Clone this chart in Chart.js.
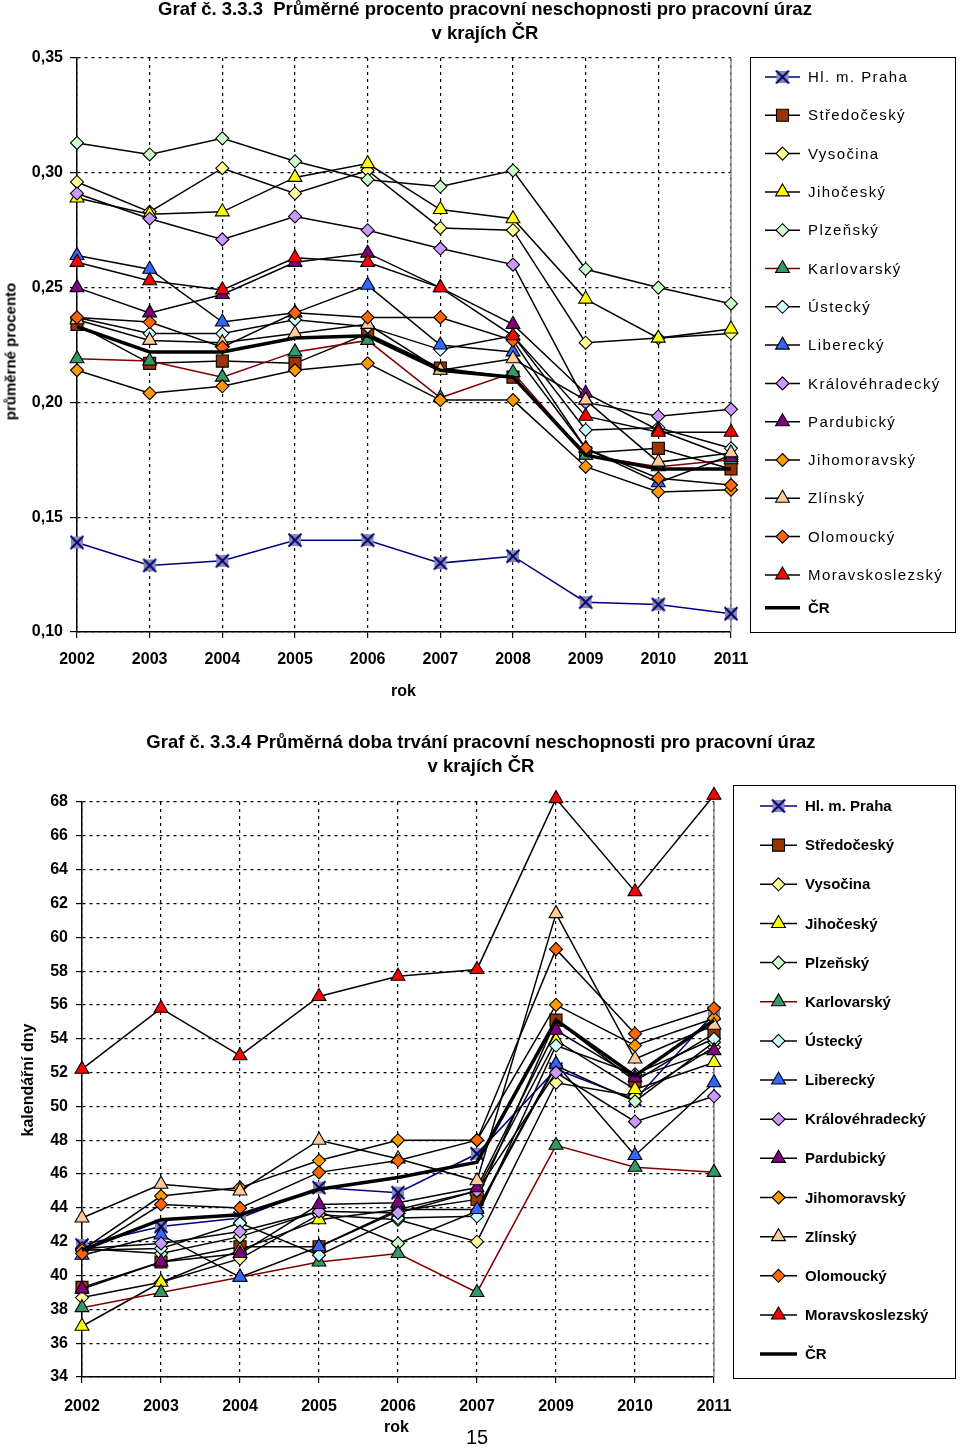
<!DOCTYPE html>
<html><head><meta charset="utf-8">
<script src="https://cdn.jsdelivr.net/npm/chart.js@4.4.1/dist/chart.umd.min.js"></script>
<style>
body{margin:0;background:#fff;width:960px;height:1449px;position:relative;font-family:"Liberation Sans",Arial,sans-serif;overflow:hidden}
.t{position:absolute;font-weight:bold;font-size:18.5px;color:#000;text-align:center;white-space:nowrap;line-height:24px}
.a{position:absolute;font-weight:bold;font-size:16px;color:#000;white-space:nowrap}
canvas{position:absolute;left:0}
</style></head><body>
<canvas id="c1" width="960" height="700" style="top:0"></canvas>
<canvas id="c2" width="960" height="729" style="top:720px"></canvas>
<div class="t" style="left:0;width:970px;top:-3px">Graf č. 3.3.3 &nbsp;Průměrné procento pracovní neschopnosti pro pracovní úraz<br>v krajích ČR</div>
<div class="a" style="left:-60px;top:343px;width:140px;text-align:center;transform:rotate(-90deg);font-size:15px">průměrné procento</div>
<div class="a" style="left:391px;top:682px">rok</div>
<div class="t" style="left:0;width:962px;top:730px">Graf č. 3.3.4 Průměrná doba trvání pracovní neschopnosti pro pracovní úraz<br>v krajích ČR</div>
<div class="a" style="left:-42px;top:1071px;width:140px;text-align:center;transform:rotate(-90deg)">kalendářní dny</div>
<div class="a" style="left:384px;top:1418px">rok</div>
<div style="position:absolute;left:466px;top:1426px;font-size:20px">15</div>
<script>
// ---- categories ----
const years1 = ['2002','2003','2004','2005','2006','2007','2008','2009','2010','2011'];
const years2 = ['2002','2003','2004','2005','2006','2007','2009','2010','2011'];
const regions = ['Hl. m. Praha','Středočeský','Vysočina','Jihočeský','Plzeňský','Karlovarský','Ústecký','Liberecký','Královéhradecký','Pardubický','Jihomoravský','Zlínský','Olomoucký','Moravskoslezský','ČR'];
// ---- tick labels ----
const ticks1 = [0.10,0.15,0.20,0.25,0.30,0.35];
const ticks2 = [34,36,38,40,42,44,46,48,50,52,54,56,58,60,62,64,66,68];

// ---- Graf 3.3.3: průměrné procento ----
const p_praha = [0.139,0.129,0.131,0.140,0.140,0.130,0.133,0.113,0.112,0.108];
const p_stredocesky = [0.234,0.217,0.218,0.217,0.230,0.215,0.211,0.178,0.180,0.171];
const p_vysocina = [0.296,0.283,0.302,0.291,0.301,0.276,0.275,0.226,0.228,0.230];
const p_jihocesky = [0.289,0.282,0.283,0.298,0.304,0.284,0.280,0.245,0.228,0.232];
const p_plzensky = [0.313,0.308,0.315,0.305,0.297,0.294,0.301,0.258,0.250,0.243];
const p_karlovarsky = [0.219,0.218,0.211,0.222,0.227,0.202,0.213,0.177,0.172,0.175];
const p_ustecky = [0.237,0.230,0.230,0.236,0.233,0.223,0.229,0.188,0.189,0.180];
const p_liberecky = [0.264,0.258,0.235,0.239,0.251,0.225,0.222,0.180,0.165,0.177];
const p_kralovehradecky = [0.291,0.280,0.271,0.281,0.275,0.267,0.260,0.200,0.194,0.197];
const p_pardubicky = [0.250,0.239,0.247,0.261,0.265,0.250,0.234,0.204,0.188,0.176];
const p_jihomoravsky = [0.214,0.204,0.207,0.214,0.217,0.201,0.201,0.172,0.161,0.162];
const p_zlinsky = [0.236,0.227,0.226,0.230,0.234,0.214,0.219,0.201,0.174,0.178];
const p_olomoucky = [0.237,0.235,0.224,0.239,0.237,0.237,0.227,0.180,0.167,0.164];
const p_moravskoslezsky = [0.261,0.253,0.249,0.263,0.261,0.250,0.229,0.194,0.187,0.187];
const p_cr = [0.233,0.222,0.222,0.228,0.229,0.214,0.211,0.177,0.171,0.171];

// ---- Graf 3.3.4: průměrná doba (kalendářní dny) ----
const d_praha = [41.8,42.9,43.4,45.2,44.9,47.2,52.2,50.4,55.5];
const d_stredocesky = [39.3,40.8,41.7,41.7,43.8,44.5,55.1,51.5,54.3];
const d_vysocina = [38.7,39.6,41.0,43.6,43.3,42.0,51.4,50.6,53.5];
const d_jihocesky = [37.0,39.6,41.5,43.3,43.9,45.0,53.9,51.0,52.6];
const d_plzensky = [41.6,41.3,42.3,43.8,41.9,43.8,52.4,50.3,53.8];
const d_karlovarsky = [38.1,39.0,39.9,40.8,41.3,39.0,47.7,46.4,46.1];
const d_ustecky = [41.5,41.6,43.1,41.2,43.4,43.5,53.6,51.9,54.0];
const d_liberecky = [41.2,42.4,39.9,41.7,43.9,43.9,52.5,47.1,51.4];
const d_kralovehradecky = [41.6,41.9,42.6,43.8,43.7,45.0,52.0,49.1,50.6];
const d_pardubicky = [39.2,40.8,41.3,44.2,44.3,45.2,54.5,51.7,53.3];
const d_jihomoravsky = [41.5,44.7,45.2,46.8,48.0,48.0,56.0,53.6,55.2];
const d_zlinsky = [43.4,45.4,45.0,48.0,46.9,45.6,61.4,52.8,54.8];
const d_olomoucky = [41.3,44.2,44.0,46.1,46.8,48.0,59.3,54.3,55.8];
const d_moravskoslezsky = [52.2,55.8,53.0,56.5,57.7,58.1,68.2,62.7,68.4];
const d_cr = [41.5,43.3,43.6,45.1,45.8,46.7,55.1,51.8,55.1];

const series1 = [p_praha,p_stredocesky,p_vysocina,p_jihocesky,p_plzensky,p_karlovarsky,p_ustecky,p_liberecky,p_kralovehradecky,p_pardubicky,p_jihomoravsky,p_zlinsky,p_olomoucky,p_moravskoslezsky,p_cr];
const series2 = [d_praha,d_stredocesky,d_vysocina,d_jihocesky,d_plzensky,d_karlovarsky,d_ustecky,d_liberecky,d_kralovehradecky,d_pardubicky,d_jihomoravsky,d_zlinsky,d_olomoucky,d_moravskoslezsky,d_cr];

// ---- styles ----
function prahaMarker(){
  const c=document.createElement('canvas');c.width=16;c.height=16;
  const g=c.getContext('2d');
  g.fillStyle='#8c8ca6';g.fillRect(2,2,12,12);
  g.strokeStyle='#000080';g.lineWidth=2;
  g.beginPath();g.moveTo(1.5,1.5);g.lineTo(14.5,14.5);g.moveTo(14.5,1.5);g.lineTo(1.5,14.5);g.stroke();
  return c;
}
const PM = prahaMarker();
const styles = [
 {line:'#000080', fill:'#8c8ca6', shape:PM, r:8},
 {line:'#000', fill:'#993300', shape:'rect', r:8.5},
 {line:'#000', fill:'#FFFF99', shape:'rectRot', r:6.5},
 {line:'#000', fill:'#FFFF00', shape:'triangle', r:8},
 {line:'#000', fill:'#CCFFCC', shape:'rectRot', r:6.5},
 {line:'#800000', fill:'#339966', shape:'triangle', r:8},
 {line:'#000', fill:'#CCFFFF', shape:'rectRot', r:6.5},
 {line:'#000', fill:'#3366FF', shape:'triangle', r:8},
 {line:'#000', fill:'#CC99FF', shape:'rectRot', r:6.5},
 {line:'#000', fill:'#800080', shape:'triangle', r:8},
 {line:'#000', fill:'#FF9900', shape:'rectRot', r:6.5},
 {line:'#000', fill:'#FFCC99', shape:'triangle', r:8},
 {line:'#000', fill:'#FF6600', shape:'rectRot', r:6.5},
 {line:'#000', fill:'#FF0000', shape:'triangle', r:8},
 {line:'#000', fill:null, shape:false, r:0, w:3.5}
];

function makeDatasets(series){
  return series.map((d,i)=>{
    const s=styles[i];
    return {
      label:regions[i], data:d, order:series.length-i, clip:false,
      borderColor:s.line, borderWidth:s.w||1.5, tension:0, fill:false,
      pointStyle:s.shape, pointRadius:s.r, pointHoverRadius:s.r,
      pointBackgroundColor:s.fill||'#000', pointBorderColor:'#000', pointBorderWidth:1.1
    };
  });
}

function drawMarker(ctx,s,x,y){
  if(!s.shape) return;
  if(typeof s.shape!=='string'){ctx.drawImage(s.shape,x-8,y-8);return;}
  const r=s.r;
  ctx.beginPath();
  if(s.shape==='rect'){const h=r*Math.SQRT1_2;ctx.rect(x-h,y-h,2*h,2*h);}
  else if(s.shape==='rectRot'){ctx.moveTo(x,y-r);ctx.lineTo(x+r,y);ctx.lineTo(x,y+r);ctx.lineTo(x-r,y);ctx.closePath();}
  else if(s.shape==='triangle'){for(let k=0;k<3;k++){const a=k*2*Math.PI/3;const px=x+Math.sin(a)*r,py=y-Math.cos(a)*r;k?ctx.lineTo(px,py):ctx.moveTo(px,py);}ctx.closePath();}
  ctx.fillStyle=s.fill;ctx.fill();ctx.strokeStyle='#000';ctx.lineWidth=1.1;ctx.stroke();
}

const legendPlugin = {
  id:'xlLegend',
  beforeDatasetsDraw(chart){
    const ctx=chart.ctx, ca=chart.chartArea;
    ctx.save();ctx.strokeStyle='#888';ctx.lineWidth=1.5;ctx.beginPath();ctx.moveTo(ca.right,ca.top);ctx.lineTo(ca.right,ca.bottom);ctx.stroke();ctx.restore();
  },
  afterDraw(chart,args,o){
    const ctx=chart.ctx;ctx.save();
    ctx.strokeStyle='#000';ctx.lineWidth=1;ctx.strokeRect(o.box[0]+0.5,o.box[1]+0.5,o.box[2],o.box[3]);
    regions.forEach((name,i)=>{
      const s=styles[i];
      const y=o.y0+i*o.dy+(i===regions.length-1?o.lastAdj:0);
      ctx.strokeStyle=s.line;ctx.lineWidth=s.w||1.5;
      ctx.beginPath();ctx.moveTo(o.x1,y);ctx.lineTo(o.x2,y);ctx.stroke();
      drawMarker(ctx,s,(o.x1+o.x2)/2,y);
      ctx.fillStyle='#000';ctx.font=(i===regions.length-1?'bold ':o.weight)+'15px "Liberation Sans", Arial, sans-serif';
      ctx.letterSpacing=(i===regions.length-1)?'0px':o.ls;
      ctx.textBaseline='middle';ctx.textAlign='left';
      ctx.fillText(name,o.tx,y+1);
    });
    ctx.restore();
  }
};

const FONT = {family:'"Liberation Sans", Arial, sans-serif', size:16, weight:'bold'};

function makeChart(id,labels,series,cfg){
  return new Chart(document.getElementById(id),{
    type:'line',
    data:{labels:labels,datasets:makeDatasets(series)},
    plugins:[legendPlugin],
    options:{
      responsive:false, maintainAspectRatio:false, animation:false,
      layout:{padding:{top:cfg.top,right:cfg.right,left:0,bottom:0}},
      plugins:{legend:{display:false},tooltip:{enabled:false},xlLegend:cfg.legend},
      scales:{
        x:{
          offset:false,
          grid:{color:'#000',lineWidth:1.2,tickLength:6,drawTicks:true,tickColor:'#000'},
          border:{color:'#000',width:1.5,dash:[3,4]},
          ticks:{color:'#000',font:FONT,padding:cfg.xpad,maxRotation:0,autoSkip:false},
          afterFit(s){s.height=cfg.xh;}
        },
        y:{
          min:cfg.min,max:cfg.max,
          afterBuildTicks(s){s.ticks=cfg.ticks.map(v=>({value:v}));},
          grid:{color:'#000',lineWidth:1.2,tickLength:cfg.ytl,drawTicks:true,tickColor:'#000'},
          border:{color:'#000',width:1.5,dash:[3,4]},
          ticks:{color:'#000',font:FONT,padding:cfg.ypad,callback:cfg.fmt},
          afterFit(s){s.width=cfg.yw;}
        }
      }
    }
  });
}

makeChart('c1',years1,series1,{
  top:58,right:229,xh:68,yw:77,xpad:12,ytl:7,ypad:7,min:0.10,max:0.35,ticks:ticks1,
  fmt:v=>v.toFixed(2).replace('.',','),
  legend:{box:[750,57,205,575],y0:77,dy:38.3,lastAdj:-5.5,x1:765,x2:800,tx:808,weight:'',ls:'1.4px'}
});
makeChart('c2',years2,series2,{
  top:82,right:246,xh:72,yw:82,xpad:14,ytl:6,ypad:8,min:34,max:68,ticks:ticks2,
  fmt:v=>String(v),
  legend:{box:[733,65,222,593],y0:86,dy:39.15,lastAdj:0,x1:760,x2:797,tx:805,weight:'bold ',ls:'0px'}
});
</script>
</body></html>
